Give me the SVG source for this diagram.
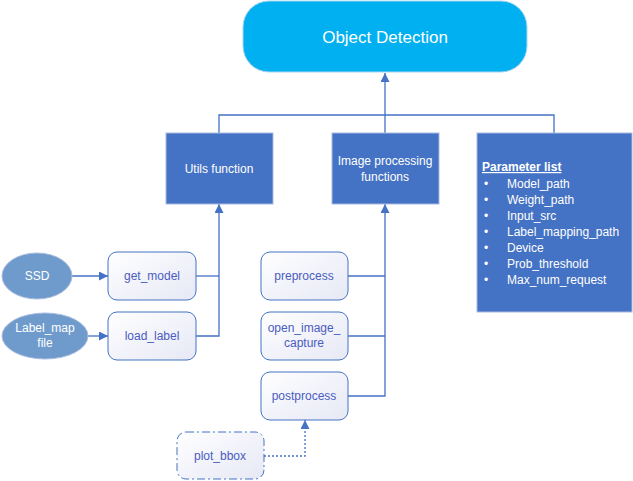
<svg xmlns="http://www.w3.org/2000/svg" width="633" height="481" viewBox="0 0 633 481">
<style>
text{font-family:"Liberation Sans",Arial,sans-serif}
.fn{fill:url(#g);stroke:#4472C4;stroke-width:1}
.ft{font-size:12px;fill:#4A5CC0;text-anchor:middle}
.blk{fill:#4472C4;stroke:#A9BBE0;stroke-width:1}
.wt{fill:#fff;font-size:12px;text-anchor:middle}
.ln{fill:none;stroke:#4472C4;stroke-width:1.3}
.pl{fill:#fff;font-size:12px}
</style>
<defs>
<linearGradient id="g" x1="0" y1="0" x2="1" y2="1">
<stop offset="0" stop-color="#FFFFFF"/>
<stop offset="1" stop-color="#E6E8F5"/>
</linearGradient>
<marker id="a" viewBox="0 0 10 10" refX="10" refY="5" markerWidth="9" markerHeight="9" markerUnits="userSpaceOnUse" orient="auto">
<path d="M0,0L10,5L0,10z" fill="#4472C4"/>
</marker>
</defs>
<g id="connectors">
<path class="ln" d="M385,133V73" marker-end="url(#a)"/>
<path class="ln" d="M219,133V115H554V133" stroke="#8FAADC"/>
<path class="ln" d="M72,276H108" marker-end="url(#a)"/>
<path class="ln" d="M88,336H108" marker-end="url(#a)"/>
<path class="ln" d="M196,276H219"/>
<path class="ln" d="M196,336H219V204" marker-end="url(#a)"/>
<path class="ln" d="M348,276H385"/>
<path class="ln" d="M348,336H385"/>
<path class="ln" d="M348,396H385V204" marker-end="url(#a)"/>
<path class="ln" d="M264,456H305V420" stroke-dasharray="2,2" marker-end="url(#a)"/>
</g>
<g id="object-detection">
<rect x="243" y="1" width="284" height="71" rx="26" fill="#00B0F0" stroke="#A9D6F0"/>
<text x="385" y="43" fill="#fff" font-size="17" text-anchor="middle">Object Detection</text>
</g>
<g id="utils">
<rect class="blk" x="166" y="133" width="107" height="71"/>
<text class="wt" x="219" y="173" font-size="12.5">Utils function</text>
</g>
<g id="imgproc">
<rect class="blk" x="332" y="133" width="107" height="71"/>
<text class="wt" x="385" y="165">Image processing</text>
<text class="wt" x="385" y="181">functions</text>
</g>
<g id="params">
<rect class="blk" x="477" y="133" width="155" height="179"/>
<text class="pl" x="482" y="171" font-weight="bold" font-size="14.5" text-decoration="underline">Parameter list</text>
<g class="pl">
<text x="484" y="188">•</text><text x="507" y="188">Model_path</text>
<text x="484" y="204">•</text><text x="507" y="204">Weight_path</text>
<text x="484" y="220">•</text><text x="507" y="220">Input_src</text>
<text x="484" y="236">•</text><text x="507" y="236">Label_mapping_path</text>
<text x="484" y="252">•</text><text x="507" y="252">Device</text>
<text x="484" y="268">•</text><text x="507" y="268">Prob_threshold</text>
<text x="484" y="284">•</text><text x="507" y="284">Max_num_request</text>
</g>
</g>
<g id="ssd">
<ellipse cx="37" cy="276" rx="35" ry="23" fill="#6F9BCC" stroke="#A9BBE0"/>
<text class="wt" x="37" y="280">SSD</text>
</g>
<g id="labelmap">
<ellipse cx="45" cy="336" rx="43" ry="23" fill="#6F9BCC" stroke="#A9BBE0"/>
<text class="wt" x="45" y="332">Label_map</text>
<text class="wt" x="45" y="347">file</text>
</g>
<g id="get_model">
<rect class="fn" x="108" y="252" width="88" height="48" rx="9"/>
<text class="ft" x="152" y="280">get_model</text>
</g>
<g id="load_label">
<rect class="fn" x="108" y="312" width="88" height="48" rx="9"/>
<text class="ft" x="152" y="340">load_label</text>
</g>
<g id="preprocess">
<rect class="fn" x="261" y="252" width="87" height="48" rx="9"/>
<text class="ft" x="304" y="280">preprocess</text>
</g>
<g id="open_image_capture">
<rect class="fn" x="261" y="312" width="87" height="48" rx="9"/>
<text class="ft" x="304" y="332">open_image_</text>
<text class="ft" x="304" y="347">capture</text>
</g>
<g id="postprocess">
<rect class="fn" x="261" y="372" width="87" height="48" rx="9"/>
<text class="ft" x="304" y="400">postprocess</text>
</g>
<g id="plot_bbox">
<rect class="fn" x="177" y="432" width="87" height="47" rx="9" stroke-dasharray="8,3,2,3"/>
<text class="ft" x="220" y="460">plot_bbox</text>
</g>
</svg>
